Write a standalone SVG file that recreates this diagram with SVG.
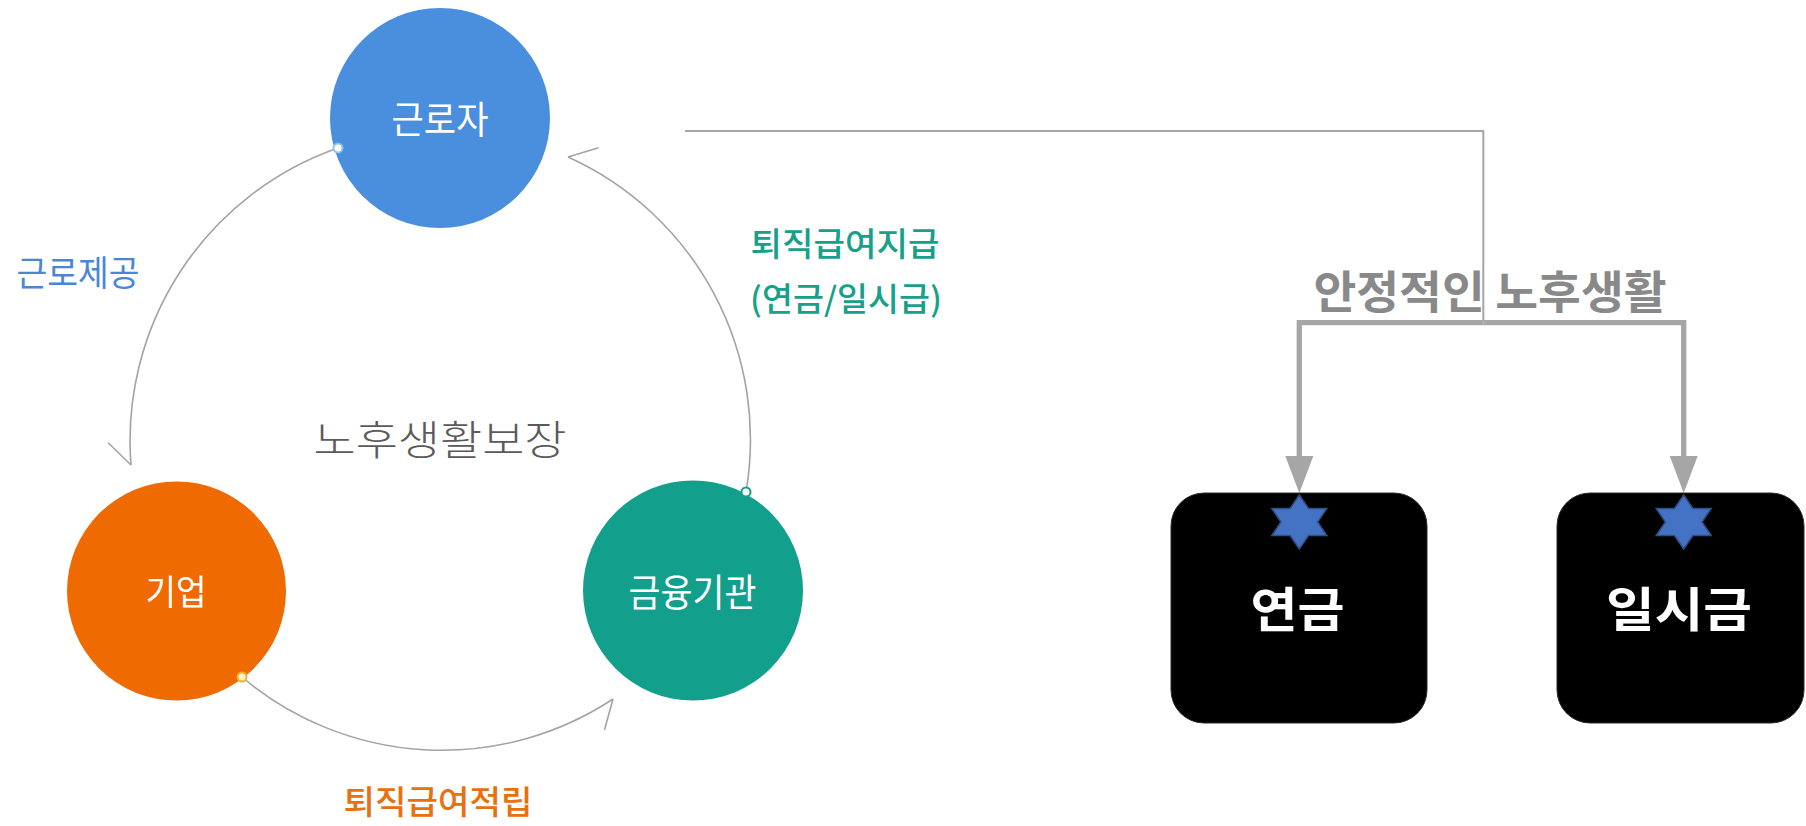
<svg xmlns="http://www.w3.org/2000/svg" width="1806" height="826" viewBox="0 0 1806 826">
<style>
  text { font-family: "Noto Sans CJK KR", "Noto Sans", sans-serif; text-anchor: middle; }
  .node-label { fill: #ffffff; font-weight: 400; }
  .arc { fill: none; stroke: #a3a3a3; stroke-width: 1.6; }
  .thin { fill: none; stroke: #a6a6a6; stroke-width: 2; }
  .thick { fill: none; stroke: #a6a6a6; stroke-width: 5.3; stroke-linejoin: miter; }
  .box { fill: #000000; stroke: #2a2a2a; stroke-width: 1; }
  .box-label { fill: #ffffff; font-weight: 700; font-size: 48px; }
  .star { fill: #4472c4; stroke: #2f4f86; stroke-width: 1.5; }
</style>
<defs>
  <marker id="barb" markerUnits="userSpaceOnUse" orient="auto" refX="0" refY="0" markerWidth="60" markerHeight="60" overflow="visible">
    <path d="M0,0 L-24,21" fill="none" stroke="#a3a3a3" stroke-width="1.6"/>
  </marker>
  <marker id="tri" markerUnits="userSpaceOnUse" orient="auto" refX="0" refY="0" markerWidth="60" markerHeight="60" overflow="visible">
    <path d="M0,-14 L37,0 L0,14 Z" fill="#a6a6a6"/>
  </marker>
  <polygon id="hexstar" points="0,-27 9.2,-13.5 27.5,-13.5 18.3,0 27.5,13.5 9.2,13.5 0,27 -9.2,13.5 -27.5,13.5 -18.3,0 -27.5,-13.5 -9.2,-13.5"/>
</defs>

<g id="connectors">
  <path class="arc" d="M338,148 A310,310 0 0 0 131,465" marker-end="url(#barb)"/>
  <path class="arc" d="M242,677 A310,310 0 0 0 613,699" marker-end="url(#barb)"/>
  <path class="arc" d="M746,492 A310,310 0 0 0 568,157" marker-end="url(#barb)"/>
  <path class="thin" d="M685,131 H1483.3 V321"/>
  <path class="thick" d="M1483.3,322.7 H1299.3 V456" marker-end="url(#tri)"/>
  <path class="thick" d="M1483.3,322.7 H1683.7 V456" marker-end="url(#tri)"/>
</g>

<g id="node-worker">
  <circle cx="440" cy="118" r="110" fill="#4a8ede"/>
  <text class="node-label" x="440" y="133" font-size="38" textLength="97" lengthAdjust="spacingAndGlyphs">근로자</text>
  <circle cx="338" cy="148" r="4.5" fill="#ffffff" stroke="#8fc0f2" stroke-width="2"/>
</g>

<g id="node-company">
  <circle cx="176.5" cy="591" r="109.5" fill="#ef6a00"/>
  <text class="node-label" x="176" y="605" font-size="35" textLength="61" lengthAdjust="spacingAndGlyphs">기업</text>
  <circle cx="242" cy="677" r="4.5" fill="#fff6d0" stroke="#f6b030" stroke-width="2"/>
</g>

<g id="node-bank">
  <circle cx="693" cy="590.5" r="110" fill="#12a08d"/>
  <text class="node-label" x="692.5" y="606" font-size="38" textLength="128" lengthAdjust="spacingAndGlyphs">금융기관</text>
  <circle cx="746" cy="492" r="4.5" fill="#ffffff" stroke="#12a08d" stroke-width="2"/>
</g>

<g id="label-labor">
  <text x="78" y="286" font-size="35" fill="#4a86d6" textLength="123" lengthAdjust="spacingAndGlyphs">근로제공</text>
</g>

<g id="label-payout">
  <text x="845" y="256" font-size="33" fill="#17a08a" font-weight="500" textLength="189" lengthAdjust="spacingAndGlyphs">퇴직급여지급</text>
  <text x="846" y="311" font-size="33" fill="#17a08a" font-weight="500" textLength="192" lengthAdjust="spacingAndGlyphs">(연금/일시급)</text>
</g>

<g id="label-accumulate">
  <text x="438" y="814" font-size="33" fill="#e8700e" font-weight="500" textLength="189" lengthAdjust="spacingAndGlyphs">퇴직급여적립</text>
</g>

<g id="label-center">
  <text x="440" y="455" font-size="41" fill="#5a5a5a" font-weight="300" textLength="253" lengthAdjust="spacingAndGlyphs">노후생활보장</text>
</g>

<g id="label-stable">
  <text x="1490" y="309" font-size="45" fill="#898989" font-weight="700" textLength="353" lengthAdjust="spacingAndGlyphs">안정적인 노후생활</text>
</g>

<g id="node-pension">
  <rect class="box" x="1171" y="493" width="256" height="230" rx="33" ry="33"/>
  <use href="#hexstar" class="star" transform="translate(1299.3,522)"/>
  <text class="box-label" x="1297.5" y="627" textLength="94" lengthAdjust="spacingAndGlyphs">연금</text>
</g>

<g id="node-lumpsum">
  <rect class="box" x="1557" y="493" width="247" height="230" rx="33" ry="33"/>
  <use href="#hexstar" class="star" transform="translate(1683.7,522)"/>
  <text class="box-label" x="1679" y="627" textLength="146" lengthAdjust="spacingAndGlyphs">일시금</text>
</g>
</svg>
